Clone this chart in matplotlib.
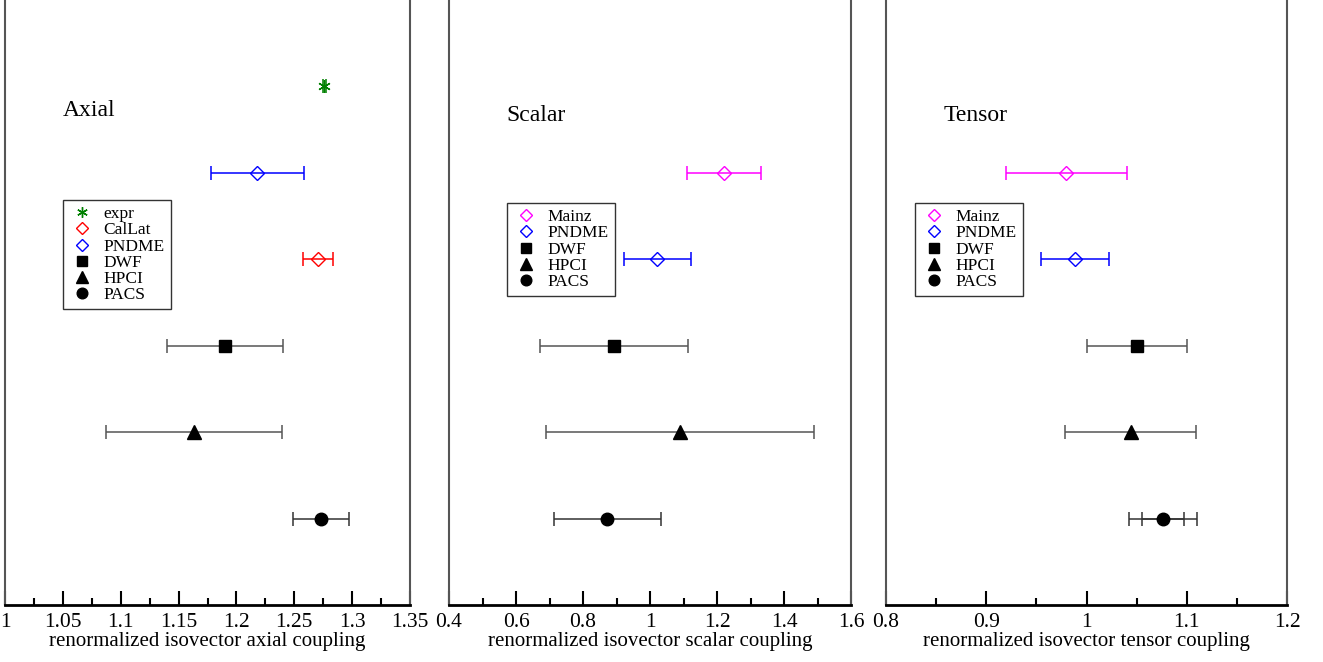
import numpy as np
import matplotlib.pyplot as plt
from matplotlib.lines import Line2D
from matplotlib.ticker import MultipleLocator

plt.rcParams['font.family'] = ['Liberation Serif', 'DejaVu Serif']

# axial coupling
axial_names = ['expr', 'CalLat', 'PNDME', 'DWF', 'HPCI', 'PACS']
axial_vals = [1.2757, 1.2705, 1.218, 1.190, 1.163, 1.273]
axial_errs = [0.0013, 0.013, 0.040, 0.050, 0.076, 0.024]
axial_y = [6.0, 4.0, 5.0, 3.0, 2.0, 1.0]

# scalar coupling
scalar_names = ['Mainz', 'PNDME', 'DWF', 'HPCI', 'PACS']
scalar_vals = [1.221, 1.021, 0.893, 1.090, 0.872]
scalar_errs = [0.110, 0.100, 0.220, 0.400, 0.160]

# tensor coupling
tensor_names = ['Mainz', 'PNDME', 'DWF', 'HPCI', 'PACS']
tensor_vals = [0.980, 0.9885, 1.050, 1.044, 1.076]
tensor_errs = [0.060, 0.034, 0.050, 0.065, 0.034]
tensor_pacs_stat = 0.021

other_y = [5.0, 4.0, 3.0, 2.0, 1.0]

style = {
    'expr':   dict(marker=(6, 2, 0), color='green', mfc='green', ms=9),
    'CalLat': dict(marker='D', color='red', mfc='none', ms=7.5),
    'Mainz':  dict(marker='D', color='magenta', mfc='none', ms=7.5),
    'PNDME':  dict(marker='D', color='blue', mfc='none', ms=7.5),
    'DWF':    dict(marker='s', color='black', mfc='black', ms=8.5),
    'HPCI':   dict(marker='^', color='black', mfc='black', ms=9.5),
    'PACS':   dict(marker='o', color='black', mfc='black', ms=9),
}
bar_col = {'expr': 'green', 'CalLat': 'red', 'Mainz': 'magenta',
           'PNDME': 'blue', 'DWF': '#555555', 'HPCI': '#555555', 'PACS': '#333333'}

fig = plt.figure(figsize=(13.23, 6.62), dpi=100)
W, H = 1323.0, 662.0
bottom = (H - 605) / H
height = 608 / H
ytop = 7.0 * 608 / 605


def panel(x0, x1, names, vals, errs, ys, xlim, major, minor, title, xlabel, tpos, lpos):
    ax = fig.add_axes([x0 / W, bottom, (x1 - x0) / W, height])
    for n, v, e, y in zip(names, vals, errs, ys):
        st = style[n]
        ax.errorbar(v, y, xerr=e, fmt='none', ecolor=bar_col[n], elinewidth=1.1,
                    capsize=4.8, capthick=1.1, zorder=2)
        ax.plot(v, y, linestyle='none', marker=st['marker'], color=st['color'],
                mfc=st['mfc'], ms=st['ms'], mew=1.0, zorder=3)
    ax.set_xlim(*xlim)
    ax.set_ylim(0, ytop)
    ax.xaxis.set_major_locator(MultipleLocator(major))
    ax.xaxis.set_minor_locator(MultipleLocator(minor))
    ax.tick_params(axis='x', which='major', direction='in', length=10, width=1.5,
                   labelsize=15.5, pad=6, top=False)
    ax.tick_params(axis='x', which='minor', direction='in', length=5, width=1.5, top=False)
    ax.set_yticks([])
    ax.xaxis.set_major_formatter(plt.FuncFormatter(lambda v, p: f'{v:.2f}'.rstrip('0').rstrip('.')))
    for s in ['left', 'right', 'top']:
        ax.spines[s].set_color('#555555')
        ax.spines[s].set_linewidth(1.5)
    ax.spines['bottom'].set_linewidth(2)
    ax.set_xlabel(xlabel, fontsize=15, labelpad=0)
    ax.text(tpos[0], tpos[1], title, transform=ax.transAxes, fontsize=17, va='center')
    handles = [Line2D([], [], linestyle='none', marker=style[n]['marker'],
                      color=style[n]['color'], mfc=style[n]['mfc'],
                      ms=style[n]['ms'] * 0.85, mew=1.0) for n in names]
    leg = ax.legend(handles, names, loc='upper left', bbox_to_anchor=lpos,
                    fontsize=12.5, frameon=True, fancybox=False, edgecolor='black',
                    handletextpad=0.5, labelspacing=0.0, borderpad=0.35,
                    handlelength=1.5, borderaxespad=0)
    leg.get_frame().set_linewidth(1.0)
    return ax


panel(5, 410, axial_names, axial_vals, axial_errs, axial_y, (1.0, 1.35), 0.05, 0.025,
      'Axial', 'renormalized isovector axial coupling', (0.143, 0.813), (0.143, 0.666))
panel(449, 851, scalar_names, scalar_vals, scalar_errs, other_y, (0.4, 1.6), 0.2, 0.1,
      'Scalar', 'renormalized isovector scalar coupling', (0.143, 0.805), (0.144, 0.661))
ax3 = panel(886, 1287, tensor_names, tensor_vals, tensor_errs, other_y, (0.8, 1.2), 0.1, 0.05,
            'Tensor', 'renormalized isovector tensor coupling', (0.143, 0.805), (0.072, 0.661))
ax3.errorbar(tensor_vals[-1], other_y[-1], xerr=tensor_pacs_stat, fmt='none',
             ecolor='#333333', elinewidth=1.1, capsize=4.8, capthick=1.1, zorder=2)

fig.savefig('out.png', dpi=100)
